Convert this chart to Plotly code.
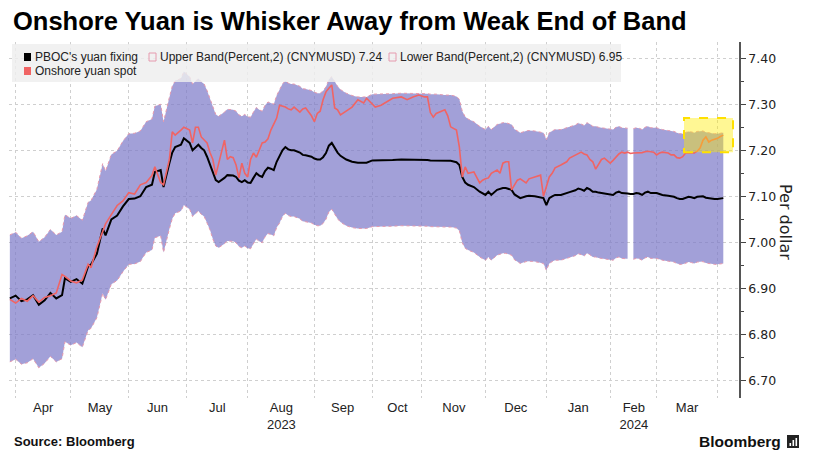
import plotly.graph_objects as go

# ---------------- data ----------------
dates = [
    "2023-03-30", "2023-04-03", "2023-04-06", "2023-04-10", "2023-04-12", "2023-04-14", "2023-04-18",
    "2023-04-20", "2023-04-24", "2023-04-26", "2023-04-27", "2023-05-04", "2023-05-08", "2023-05-10",
    "2023-05-12", "2023-05-15", "2023-05-17", "2023-05-19", "2023-05-22", "2023-05-24", "2023-05-26",
    "2023-05-30", "2023-06-01", "2023-06-05", "2023-06-07", "2023-06-09", "2023-06-13", "2023-06-14",
    "2023-06-16", "2023-06-19", "2023-06-21", "2023-06-26", "2023-06-27", "2023-06-29", "2023-06-30",
    "2023-07-04", "2023-07-05", "2023-07-06", "2023-07-07", "2023-07-10", "2023-07-11", "2023-07-12",
    "2023-07-13", "2023-07-14", "2023-07-17", "2023-07-18", "2023-07-19", "2023-07-20", "2023-07-21",
    "2023-07-24", "2023-07-25", "2023-07-26", "2023-07-27", "2023-07-28", "2023-07-31", "2023-08-01",
    "2023-08-02", "2023-08-03", "2023-08-04", "2023-08-07", "2023-08-08", "2023-08-09", "2023-08-10",
    "2023-08-11", "2023-08-14", "2023-08-15", "2023-08-16", "2023-08-17", "2023-08-18", "2023-08-21",
    "2023-08-22", "2023-08-23", "2023-08-25", "2023-08-28", "2023-08-29", "2023-08-31", "2023-09-01",
    "2023-09-04", "2023-09-05", "2023-09-06", "2023-09-07", "2023-09-08", "2023-09-11", "2023-09-12",
    "2023-09-13", "2023-09-14", "2023-09-18", "2023-09-20", "2023-09-22", "2023-09-26", "2023-09-27",
    "2023-10-09", "2023-10-10", "2023-10-12", "2023-10-16", "2023-10-18", "2023-10-23", "2023-10-25",
    "2023-10-27", "2023-10-31", "2023-11-02", "2023-11-03", "2023-11-06", "2023-11-07", "2023-11-08",
    "2023-11-13", "2023-11-14", "2023-11-15", "2023-11-17", "2023-11-20", "2023-11-21", "2023-11-22",
    "2023-11-23", "2023-11-27", "2023-11-29", "2023-11-30", "2023-12-01", "2023-12-04", "2023-12-05",
    "2023-12-07", "2023-12-08", "2023-12-11", "2023-12-12", "2023-12-13", "2023-12-14", "2023-12-15",
    "2023-12-18", "2023-12-19", "2023-12-21", "2023-12-22", "2023-12-26", "2023-12-28", "2023-12-29",
    "2024-01-02", "2024-01-03", "2024-01-04", "2024-01-05", "2024-01-09", "2024-01-11", "2024-01-12",
    "2024-01-16", "2024-01-17", "2024-01-18", "2024-01-19", "2024-01-22", "2024-01-23", "2024-01-24",
    "2024-01-25", "2024-01-26", "2024-01-29", "2024-01-30", "2024-01-31", "2024-02-01", "2024-02-02",
    "2024-02-05", "2024-02-06", "2024-02-07", "2024-02-08", "2024-02-09", "2024-02-19", "2024-02-20",
    "2024-02-21", "2024-02-22", "2024-02-23", "2024-02-26", "2024-02-27", "2024-02-28", "2024-02-29",
    "2024-03-01", "2024-03-04", "2024-03-05", "2024-03-07", "2024-03-08", "2024-03-11", "2024-03-12",
    "2024-03-13", "2024-03-14", "2024-03-15", "2024-03-18", "2024-03-19", "2024-03-20", "2024-03-21",
    "2024-03-22", "2024-03-25", "2024-03-26", "2024-03-27", "2024-03-28", "2024-03-29", "2024-04-01",
    "2024-04-02", "2024-04-03",
]

fixing = [
    6.878, 6.884, 6.872, 6.876, 6.885, 6.864, 6.874,
    6.890, 6.878, 6.885, 6.922, 6.914, 6.920, 6.910,
    6.948, 6.952, 6.975, 7.030, 7.015, 7.050, 7.058,
    7.078, 7.094, 7.095, 7.100, 7.120, 7.125, 7.153,
    7.157, 7.120, 7.172, 7.195, 7.207, 7.212, 7.226,
    7.216, 7.200, 7.205, 7.212, 7.205, 7.200, 7.186,
    7.170, 7.150, 7.135, 7.131, 7.135, 7.140, 7.146,
    7.145, 7.145, 7.142, 7.134, 7.131, 7.135, 7.130,
    7.129, 7.140, 7.150, 7.145, 7.142, 7.155, 7.162,
    7.160, 7.157, 7.175, 7.186, 7.200, 7.207, 7.202,
    7.200, 7.200, 7.195, 7.190, 7.189, 7.186, 7.182,
    7.180, 7.180, 7.185, 7.194, 7.210, 7.216, 7.205,
    7.195, 7.188, 7.180, 7.175, 7.173, 7.173, 7.173,
    7.178, 7.178, 7.178, 7.179, 7.179, 7.180, 7.180,
    7.179, 7.179, 7.179, 7.179, 7.178, 7.178, 7.178,
    7.177, 7.177, 7.177, 7.174, 7.168, 7.142, 7.130,
    7.125, 7.120, 7.110, 7.107, 7.103, 7.110, 7.103,
    7.114, 7.116, 7.118, 7.118, 7.116, 7.114, 7.104,
    7.099, 7.096, 7.100, 7.101, 7.100, 7.097, 7.096,
    7.081, 7.096, 7.100, 7.103, 7.103, 7.106, 7.109,
    7.113, 7.117, 7.115, 7.112, 7.118, 7.115, 7.110,
    7.110, 7.108, 7.107, 7.106, 7.105, 7.104, 7.103,
    7.108, 7.110, 7.107, 7.107, 7.106, 7.105, 7.105,
    7.107, 7.106, 7.103, 7.108, 7.110, 7.107, 7.107,
    7.107, 7.105, 7.103, 7.101, 7.100, 7.099, 7.096,
    7.094, 7.094, 7.096, 7.099, 7.098, 7.096, 7.099,
    7.099, 7.100, 7.097, 7.096, 7.094, 7.094, 7.094,
    7.095, 7.096,
]

spot = [
    6.876, 6.868, 6.878, 6.872, 6.884, 6.870, 6.880,
    6.884, 6.890, 6.930, 6.926, 6.916, 6.912, 6.918,
    6.952, 6.945, 6.990, 7.025, 7.040, 7.060, 7.080,
    7.090, 7.108, 7.105, 7.125, 7.130, 7.145, 7.164,
    7.130, 7.125, 7.180, 7.240, 7.233, 7.244, 7.250,
    7.244, 7.216, 7.250, 7.250, 7.229, 7.222, 7.216,
    7.195, 7.180, 7.146, 7.172, 7.194, 7.222, 7.180,
    7.186, 7.184, 7.168, 7.140, 7.172, 7.150, 7.142,
    7.180, 7.194, 7.185, 7.200, 7.216, 7.218, 7.225,
    7.244, 7.259, 7.270, 7.298, 7.296, 7.294, 7.290,
    7.288, 7.294, 7.283, 7.290, 7.292, 7.275, 7.262,
    7.280, 7.285, 7.310, 7.327, 7.335, 7.342, 7.292,
    7.288, 7.277, 7.285, 7.294, 7.310, 7.303, 7.313,
    7.300, 7.294, 7.298, 7.305, 7.313, 7.316, 7.310,
    7.316, 7.320, 7.316, 7.316, 7.282, 7.272, 7.280,
    7.288, 7.275, 7.251, 7.244, 7.207, 7.142, 7.164,
    7.150, 7.153, 7.129, 7.135, 7.138, 7.140, 7.150,
    7.157, 7.150, 7.172, 7.175, 7.175, 7.114, 7.125,
    7.135, 7.138, 7.129, 7.138, 7.142, 7.146, 7.100,
    7.120, 7.142, 7.150, 7.162, 7.168, 7.175, 7.183,
    7.190, 7.194, 7.196, 7.192, 7.190, 7.180, 7.175,
    7.159, 7.170, 7.180, 7.183, 7.178, 7.172, 7.178,
    7.186, 7.192, 7.196, 7.194, 7.196, 7.193, 7.194,
    7.194, 7.194, 7.195, 7.197, 7.198, 7.197, 7.196,
    7.190, 7.194, 7.196, 7.194, 7.190, 7.190, 7.184,
    7.183, 7.186, 7.194, 7.194, 7.194, 7.194, 7.198,
    7.205, 7.222, 7.229, 7.218, 7.222, 7.224, 7.226,
    7.230, 7.233,
]

upper = [
    7.016, 7.022, 7.009, 7.014, 7.023, 7.001, 7.011,
    7.028, 7.016, 7.023, 7.060, 7.052, 7.058, 7.048,
    7.087, 7.091, 7.115, 7.171, 7.155, 7.191, 7.199,
    7.220, 7.236, 7.237, 7.242, 7.262, 7.268, 7.296,
    7.300, 7.262, 7.315, 7.339, 7.351, 7.356, 7.371,
    7.360, 7.344, 7.349, 7.356, 7.349, 7.344, 7.330,
    7.313, 7.293, 7.278, 7.274, 7.278, 7.283, 7.289,
    7.288, 7.288, 7.285, 7.277, 7.274, 7.278, 7.273,
    7.272, 7.283, 7.293, 7.288, 7.285, 7.298, 7.305,
    7.303, 7.300, 7.319, 7.330, 7.344, 7.351, 7.346,
    7.344, 7.344, 7.339, 7.334, 7.333, 7.330, 7.326,
    7.324, 7.324, 7.329, 7.338, 7.354, 7.360, 7.349,
    7.339, 7.332, 7.324, 7.319, 7.316, 7.316, 7.316,
    7.322, 7.322, 7.322, 7.323, 7.323, 7.324, 7.324,
    7.323, 7.323, 7.323, 7.323, 7.322, 7.322, 7.322,
    7.320, 7.320, 7.320, 7.317, 7.311, 7.285, 7.273,
    7.268, 7.262, 7.252, 7.249, 7.245, 7.252, 7.245,
    7.256, 7.258, 7.260, 7.260, 7.258, 7.256, 7.246,
    7.241, 7.238, 7.242, 7.243, 7.242, 7.239, 7.238,
    7.223, 7.238, 7.242, 7.245, 7.245, 7.248, 7.251,
    7.255, 7.259, 7.257, 7.254, 7.260, 7.257, 7.252,
    7.252, 7.250, 7.249, 7.248, 7.247, 7.246, 7.245,
    7.250, 7.252, 7.249, 7.249, 7.248, None, 7.247,
    7.249, 7.248, 7.245, 7.250, 7.252, 7.249, 7.249,
    7.249, 7.247, 7.245, 7.243, 7.242, 7.241, 7.238,
    7.236, 7.236, 7.238, 7.241, 7.240, 7.238, 7.241,
    7.241, 7.242, 7.239, 7.238, 7.236, 7.236, 7.236,
    7.237, 7.238,
]

lower = [
    6.740, 6.746, 6.735, 6.738, 6.747, 6.727, 6.737,
    6.752, 6.740, 6.747, 6.784, 6.776, 6.782, 6.772,
    6.809, 6.813, 6.836, 6.889, 6.875, 6.909, 6.917,
    6.936, 6.952, 6.953, 6.958, 6.978, 6.983, 7.010,
    7.014, 6.978, 7.029, 7.051, 7.063, 7.068, 7.081,
    7.072, 7.056, 7.061, 7.068, 7.061, 7.056, 7.042,
    7.027, 7.007, 6.992, 6.988, 6.992, 6.997, 7.003,
    7.002, 7.002, 6.999, 6.991, 6.988, 6.992, 6.987,
    6.986, 6.997, 7.007, 7.002, 6.999, 7.012, 7.019,
    7.017, 7.014, 7.032, 7.042, 7.056, 7.063, 7.058,
    7.056, 7.056, 7.051, 7.046, 7.045, 7.042, 7.038,
    7.036, 7.036, 7.041, 7.050, 7.066, 7.072, 7.061,
    7.051, 7.044, 7.036, 7.032, 7.030, 7.030, 7.030,
    7.034, 7.034, 7.034, 7.035, 7.035, 7.036, 7.036,
    7.035, 7.035, 7.035, 7.035, 7.034, 7.034, 7.034,
    7.033, 7.033, 7.033, 7.031, 7.025, 6.999, 6.987,
    6.983, 6.978, 6.968, 6.965, 6.961, 6.968, 6.961,
    6.972, 6.974, 6.976, 6.976, 6.974, 6.972, 6.962,
    6.957, 6.954, 6.958, 6.959, 6.958, 6.955, 6.954,
    6.939, 6.954, 6.958, 6.961, 6.961, 6.964, 6.967,
    6.971, 6.975, 6.973, 6.970, 6.976, 6.973, 6.968,
    6.968, 6.966, 6.965, 6.964, 6.963, 6.962, 6.961,
    6.966, 6.968, 6.965, 6.965, 6.964, None, 6.963,
    6.965, 6.964, 6.961, 6.966, 6.968, 6.965, 6.965,
    6.965, 6.963, 6.961, 6.959, 6.958, 6.957, 6.954,
    6.952, 6.952, 6.954, 6.957, 6.956, 6.954, 6.957,
    6.957, 6.958, 6.955, 6.954, 6.952, 6.952, 6.952,
    6.953, 6.954,
]

# onshore market closures (removed from the trading-day axis)
holidays = [
    "2023-04-05", "2023-05-01", "2023-05-02", "2023-05-03", "2023-06-22", "2023-06-23",
    "2023-09-29", "2023-10-02", "2023-10-03", "2023-10-04", "2023-10-05", "2023-10-06",
    "2024-01-01", "2024-02-12", "2024-02-13", "2024-02-14", "2024-02-15", "2024-02-16",
]

# first trading day of each month (grid lines)
month_starts = [
    "2023-04-03", "2023-05-04", "2023-06-01", "2023-07-03", "2023-08-01", "2023-09-01",
    "2023-10-09", "2023-11-01", "2023-12-01", "2024-01-02", "2024-02-01", "2024-03-01",
    "2024-04-01",
]
# mid-month label anchors
label_dates = [
    "2023-04-17 12:00", "2023-05-18 02:00", "2023-06-14 22:00", "2023-07-17 12:00",
    "2023-08-16 15:00", "2023-09-14 18:00", "2023-10-19 15:00", "2023-11-16 02:00",
    "2023-12-15 11:00", "2024-01-17 00:00", "2024-02-20 04:00", "2024-03-15 12:00",
]
label_text = ["Apr", "May", "Jun", "Jul", "Aug<br>2023", "Sep", "Oct", "Nov", "Dec",
              "Jan", "Feb<br>2024", "Mar"]

y_ticks = [6.70, 6.80, 6.90, 7.00, 7.10, 7.20, 7.30, 7.40]

title_text = "Onshore Yuan is Whisker Away from Weak End of Band"
legend_items = ["PBOC's yuan fixing", "Upper Band(Percent,2) (CNYMUSD) 7.24",
                "Lower Band(Percent,2) (CNYMUSD) 6.95", "Onshore yuan spot"]

# ---------------- styling ----------------
W, H = 819, 473
ML, MR, MT, MB = 9, 80, 42, 75
PW, PH = W - ML - MR, H - MT - MB


def px(x):
    return (x - ML) / PW


def py(y):
    return (H - MB - y) / PH


BAND_FILL = "rgba(122,120,200,0.70)"
BAND_EDGE = "#e69aae"
FIX_COL = "#000000"
SPOT_COL = "#f06464"

fig = go.Figure()

# band, split where the band is missing
segments, cur = [], []
for i, u in enumerate(upper):
    if u is None:
        if cur:
            segments.append(cur)
        cur = []
    else:
        cur.append(i)
if cur:
    segments.append(cur)

for seg in segments:
    xs = [dates[i] for i in seg]
    fig.add_trace(go.Scatter(x=xs, y=[lower[i] for i in seg], mode="lines",
                             line=dict(color=BAND_EDGE, width=1, dash="dot"),
                             hoverinfo="skip", showlegend=False))
    fig.add_trace(go.Scatter(x=xs, y=[upper[i] for i in seg], mode="lines",
                             line=dict(color=BAND_EDGE, width=1, dash="dot"),
                             fill="tonexty", fillcolor=BAND_FILL,
                             hoverinfo="skip", showlegend=False))

fig.add_trace(go.Scatter(x=dates, y=fixing, mode="lines",
                         line=dict(color=FIX_COL, width=2), showlegend=False))
fig.add_trace(go.Scatter(x=dates, y=spot, mode="lines",
                         line=dict(color=SPOT_COL, width=1.6), showlegend=False))

shapes = []
annotations = []

# legend box (semi-transparent, above data)
shapes.append(dict(type="rect", xref="paper", yref="paper", layer="above",
                   x0=px(12), x1=px(621), y0=py(82), y1=py(44),
                   fillcolor="rgba(238,238,238,0.82)", line=dict(width=0)))
leg_font = dict(family="Liberation Sans, Arial, sans-serif", size=12, color="#222")
leg_rows = [(24, 57, FIX_COL, True, 0), (149, 57, BAND_EDGE, False, 1),
            (389, 57, BAND_EDGE, False, 2), (24, 71, SPOT_COL, True, 3)]
for sx, sy, col, filled, k in leg_rows:
    shapes.append(dict(type="rect", xref="paper", yref="paper", layer="above",
                       x0=px(sx), x1=px(sx + 7), y0=py(sy + 4), y1=py(sy - 4),
                       fillcolor=col if filled else "rgba(0,0,0,0)",
                       line=dict(color=col, width=1 if not filled else 0)))
    annotations.append(dict(xref="paper", yref="paper", x=px(sx + 9), y=py(sy),
                            xanchor="left", yanchor="middle", text=legend_items[k],
                            showarrow=False, font=leg_font))

# yellow highlight box
shapes.append(dict(type="rect", xref="paper", yref="y", layer="above",
                   x0=px(684), x1=px(733), y0=7.196, y1=7.270,
                   fillcolor="rgba(255,236,0,0.42)",
                   line=dict(color="#ffe000", width=2, dash="dash")))

# title
annotations.append(dict(xref="paper", yref="paper", x=px(11), y=py(21),
                        xanchor="left", yanchor="middle", text="<b>" + title_text + "</b>",
                        showarrow=False,
                        font=dict(family="Liberation Sans, Arial, sans-serif", size=25.5,
                                  color="#000")))
# axis title
annotations.append(dict(xref="paper", yref="paper", x=px(786), y=py(222),
                        xanchor="center", yanchor="middle", text="Per dollar",
                        textangle=90, showarrow=False,
                        font=dict(family="DejaVu Sans, sans-serif", size=16, color="#222")))
# source
annotations.append(dict(xref="paper", yref="paper", x=px(12), y=py(441),
                        xanchor="left", yanchor="middle", text="<b>Source: Bloomberg</b>",
                        showarrow=False,
                        font=dict(family="Liberation Sans, Arial, sans-serif", size=13,
                                  color="#111")))
annotations.append(dict(xref="paper", yref="paper", x=px(783), y=py(441),
                        xanchor="right", yanchor="middle", text="<b>Bloomberg</b>",
                        showarrow=False,
                        font=dict(family="Liberation Sans, Arial, sans-serif", size=15.5,
                                  color="#111")))
# small logo glyph
shapes.append(dict(type="rect", xref="paper", yref="paper", x0=px(787), x1=px(799),
                   y0=py(448), y1=py(435), fillcolor="#222", line=dict(width=0)))
for bx, top in [(789.5, 443), (792.5, 440), (795.5, 438)]:
    shapes.append(dict(type="rect", xref="paper", yref="paper", x0=px(bx), x1=px(bx + 1.6),
                       y0=py(446), y1=py(top), fillcolor="#fff", line=dict(width=0)))

fig.update_layout(
    width=W, height=H,
    margin=dict(l=ML, r=MR, t=MT, b=MB, pad=0),
    paper_bgcolor="white", plot_bgcolor="white",
    showlegend=False,
    shapes=shapes, annotations=annotations,
    xaxis=dict(
        type="date",
        range=["2023-03-29 17:00", "2024-04-10 10:00"],
        rangebreaks=[dict(bounds=["sat", "mon"]), dict(values=holidays)],
        tickmode="array", tickvals=label_dates, ticktext=label_text,
        ticks="", showgrid=False, zeroline=False, showline=False,
        tickfont=dict(family="Liberation Sans, Arial, sans-serif", size=13, color="#222"),
        minor=dict(tickmode="array", tickvals=month_starts, showgrid=True,
                   gridcolor="#cfcfcf", griddash="dot", gridwidth=1, ticks=""),
    ),
    yaxis=dict(
        side="right", range=[6.6615, 7.4354],
        tickmode="array", tickvals=y_ticks, tickformat=".2f",
        ticks="outside", ticklen=5, tickcolor="#444", tickwidth=1,
        showline=True, linecolor="#555", linewidth=1.5,
        showgrid=True, gridcolor="#cfcfcf", griddash="dot", gridwidth=1,
        zeroline=False,
        minor=dict(dtick=0.05, tick0=6.65, ticks="outside", ticklen=3, tickcolor="#444",
                   showgrid=False),
        tickfont=dict(family="DejaVu Sans, sans-serif", size=12.5, color="#222"),
    ),
)

fig.write_html("out.html", config={"displayModeBar": False},
               post_script="document.body.style.margin='0';")
